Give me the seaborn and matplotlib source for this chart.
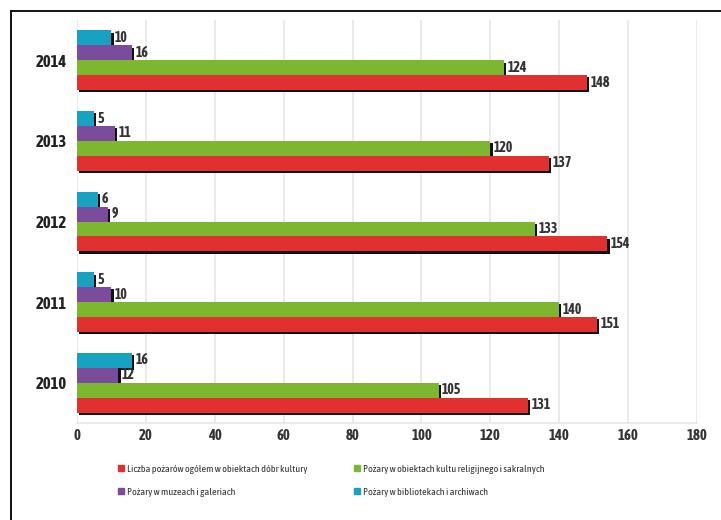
import matplotlib
matplotlib.use("Agg")
import matplotlib.pyplot as plt
import matplotlib.patheffects as pe
from matplotlib.lines import Line2D
from matplotlib import font_manager
import seaborn as sns
import pandas as pd

years = ["2014", "2013", "2012", "2011", "2010"]
series_names = [
    "Liczba pożarów ogółem w obiektach dóbr kultury",
    "Pożary w obiektach kultu religijnego i sakralnych",
    "Pożary w muzeach i galeriach",
    "Pożary w bibliotekach i archiwach",
]
total = [148, 137, 154, 151, 131]
religious = [124, 120, 133, 140, 105]
museums = [16, 11, 9, 10, 12]
libraries = [10, 5, 6, 5, 16]
colors = ["#e0302f", "#7db72f", "#7b4b9c", "#17a2c2"]
x_ticks = [0, 20, 40, 60, 80, 100, 120, 140, 160, 180]

sns.set_theme(style="white")


def wnum(w):
    if isinstance(w, str):
        return font_manager.weight_dict.get(w, 400)
    return int(w)


ttf = font_manager.fontManager.ttflist
narrow = sorted({f.name for f in ttf if ("Condensed" in f.name) or ("Narrow" in f.name)})
best = None
for name in narrow:
    ws = {wnum(f.weight) for f in ttf if f.name == name}
    score = (any(w >= 600 for w in ws)) * 2 + (any(380 <= w <= 520 for w in ws)) * 1
    if "Light" in name or "Thin" in name:
        score -= 3
    if best is None or score > best[0]:
        best = (score, name)
if best is not None:
    fam = best[1]
    sc = 1.0
else:
    fam = "Roboto"
    sc = 0.9
plt.rcParams["font.family"] = [fam, "DejaVu Sans"]

rows = []
for name, vals in zip(series_names, [total, religious, museums, libraries]):
    for y, v in zip(years, vals):
        rows.append({"year": y, "series": name, "value": v})
df = pd.DataFrame(rows)

hue_order = [series_names[3], series_names[2], series_names[1], series_names[0]]
palette = {n: c for n, c in zip(series_names, colors)}

fig = plt.figure(figsize=(7.21, 5.2), dpi=100)
ax = fig.add_axes([0.1068, 0.1865, 0.8599, 0.775])

sns.barplot(data=df, y="year", x="value", hue="series", order=years,
            hue_order=hue_order, palette=palette, orient="h", width=0.74,
            gap=0, ax=ax, legend=False, saturation=1, linewidth=0,
            edgecolor="none")

shadow = [pe.SimplePatchShadow(offset=(1.6, -1.6), shadow_rgbFace="#111111", alpha=1.0),
          pe.Normal()]
for p in ax.patches:
    p.set_path_effects(shadow)
    p.set_zorder(3)

for cont in ax.containers:
    ax.bar_label(cont, padding=2.5, fontsize=10 * sc, color="#333333",
                 fontweight="bold")

ax.set_xlim(0, 180)
ax.set_ylim(4.5, -0.5)
ax.set_xticks(x_ticks)
ax.set_xticklabels([str(t) for t in x_ticks], fontsize=10.5 * sc, color="#333333",
                   fontweight="bold")
ax.tick_params(axis="y", labelsize=12 * sc, labelcolor="#222222", pad=7, length=0)
ax.tick_params(axis="x", pad=4, length=0)
for lab in ax.get_yticklabels():
    lab.set_fontweight("bold")
ax.set_xlabel("")
ax.set_ylabel("")
ax.grid(axis="x", color="#e6e6e6", linewidth=1.2, zorder=0)
ax.set_axisbelow(True)
for s in ["top", "right", "left"]:
    ax.spines[s].set_visible(False)
ax.spines["bottom"].set_color("#e6e6e6")
ax.spines["bottom"].set_linewidth(1.2)

# legend in two fixed columns
handles = [Line2D([0], [0], marker="s", linestyle="", markersize=5,
                  markerfacecolor=c, markeredgecolor=c) for c in colors]
for idxs, xpos in (([0, 2], 0.155), ([1, 3], 0.482)):
    leg = fig.legend([handles[i] for i in idxs], [series_names[i] for i in idxs],
                     loc="upper left", bbox_to_anchor=(xpos, 0.114), ncol=1,
                     frameon=False, fontsize=7.3 * sc, handletextpad=0.1,
                     handlelength=1.0, labelspacing=1.35, borderaxespad=0)
    for t in leg.get_texts():
        t.set_color("#333333")

# frame lines (left and top)
fig.add_artist(Line2D([0.0153, 0.0153], [0.0, 0.979], transform=fig.transFigure,
                      color="black", linewidth=1.3))
fig.add_artist(Line2D([0.0153, 1.0], [0.979, 0.979], transform=fig.transFigure,
                      color="black", linewidth=1.3))

fig.savefig("out.png", dpi=100)
